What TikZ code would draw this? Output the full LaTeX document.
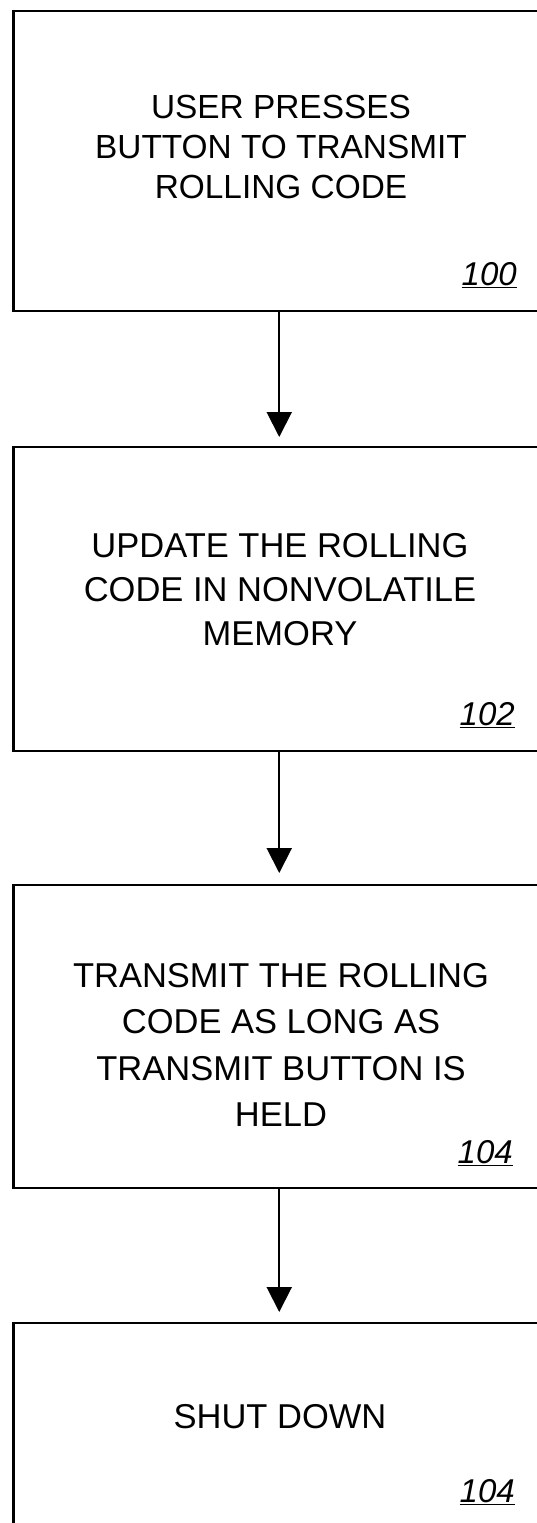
\documentclass[tikz,border=0pt]{standalone}
\usepackage{fontspec}
\setmainfont{Liberation Sans}
\usetikzlibrary{arrows.meta}
\tikzset{
  stepbox/.style={draw=black, line width=2.9pt, rectangle, outer sep=0pt, inner sep=0pt, minimum width=531.5pt},
  steptext/.style={align=center, inner sep=0pt, font=\fontsize{34}{45}\selectfont},
  reflabel/.style={inner sep=0pt, anchor=base east, font=\fontsize{33}{38}\selectfont\itshape},
  flow/.style={line width=2pt, -{Triangle[width=25pt,length=25pt]}}
}
\begin{document}
\begin{tikzpicture}[x=1pt,y=1pt]
\useasboundingbox (0,0) rectangle (537,-1523);
\clip (0,0) rectangle (537,-1523);
\fill[white] (0,0) rectangle (537,-1523);
% boxes
\node[stepbox, minimum height=300pt] (b1) at (279.25,-161) {};
\node[stepbox, minimum height=304pt] (b2) at (279.25,-599) {};
\node[stepbox, minimum height=303pt] (b3) at (279.25,-1036.5) {};
\node[stepbox, minimum height=300pt] (b4) at (279.25,-1473) {};
% texts
\node[steptext, anchor=north, font=\fontsize{33.4}{40}\selectfont] (t1) at (281,-95) {USER PRESSES\\BUTTON TO TRANSMIT\\ROLLING CODE};
\node[steptext, anchor=north, font=\fontsize{34.5}{44}\selectfont] (t2) at (280,-533) {UPDATE THE ROLLING\\CODE IN NONVOLATILE\\MEMORY};
\node[steptext, anchor=north, font=\fontsize{34.5}{46.5}\selectfont] (t3) at (281,-963) {TRANSMIT THE ROLLING\\CODE AS LONG AS\\TRANSMIT BUTTON IS\\HELD};
\node[steptext, anchor=base, font=\fontsize{34.5}{44}\selectfont] (t4) at (280,-1428) {SHUT DOWN};
% labels
\node[reflabel] (l1) at (517,-285) {\underline{100}};
\node[reflabel] (l2) at (515,-725) {\underline{102}};
\node[reflabel] (l3) at (513,-1163) {\underline{104}};
\node[reflabel] (l4) at (515,-1502) {\underline{104}};
% arrow ends
\coordinate (e2) at ([yshift=10pt]b2.north);
\coordinate (e3) at ([yshift=12pt]b3.north);
\coordinate (e4) at ([yshift=11pt]b4.north);
\draw[flow] (b1.south) -- (e2);
\draw[flow] (b2.south) -- (e3);
\draw[flow] (b3.south) -- (e4);
\end{tikzpicture}
\end{document}
